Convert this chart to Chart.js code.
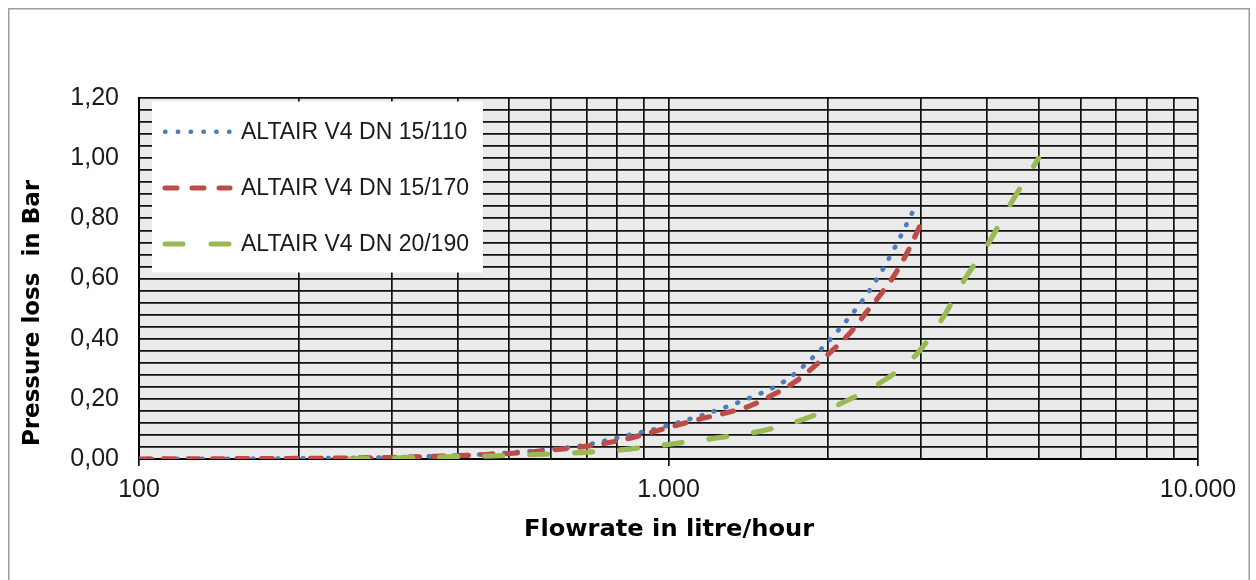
<!DOCTYPE html>
<html>
<head>
<meta charset="utf-8">
<script src="https://cdn.jsdelivr.net/npm/chart.js@4/dist/chart.umd.min.js"></script>
<style>
html,body{margin:0;padding:0;background:#fff;}
#wrap{width:1256px;height:580px;position:relative;}
</style>
</head>
<body>
<div id="wrap"><canvas id="c" width="1256" height="580"></canvas></div>
<script>
// ---- data ----
const seriesNames = ['ALTAIR V4 DN 15/110', 'ALTAIR V4 DN 15/170', 'ALTAIR V4 DN 20/190'];

const flow110 = [100, 200, 300, 400, 500, 600, 700, 768, 856, 955, 1004, 1178, 1377, 1601, 1680, 1829, 1978, 2127, 2283, 2433, 2578, 2716, 2935];
const loss110 = [0.000, 0.002, 0.006, 0.012, 0.021, 0.032, 0.047, 0.063, 0.083, 0.102, 0.113, 0.150, 0.193, 0.243, 0.266, 0.320, 0.380, 0.442, 0.509, 0.577, 0.651, 0.725, 0.845];

const flow170 = [100, 200, 300, 346, 400, 480, 540, 600, 670, 741, 830, 934, 1026, 1141, 1276, 1422, 1573, 1736, 1900, 2042, 2212, 2377, 2538, 2708, 2849, 2990];
const loss170 = [0.000, 0.002, 0.005, 0.008, 0.011, 0.017, 0.022, 0.030, 0.038, 0.049, 0.066, 0.090, 0.110, 0.132, 0.152, 0.176, 0.213, 0.257, 0.313, 0.362, 0.423, 0.493, 0.556, 0.628, 0.700, 0.778];

const flow190 = [250, 300, 379, 466, 563, 680, 832, 1014, 1222, 1479, 1787, 2118, 2530, 2934, 3293, 3619, 4035, 4434, 5000];
const loss190 = [0.000, 0.003, 0.007, 0.010, 0.015, 0.021, 0.032, 0.050, 0.069, 0.091, 0.130, 0.185, 0.257, 0.346, 0.468, 0.595, 0.722, 0.850, 1.000];

const xTickValues = [100, 200, 300, 400, 500, 600, 700, 800, 900, 1000, 2000, 3000, 4000, 5000, 6000, 7000, 8000, 9000, 10000];
const xTickLabels = {100: '100', 1000: '1.000', 10000: '10.000'};
const yTickLabels = ['0,00', '0,20', '0,40', '0,60', '0,80', '1,00', '1,20'];
const xTitle = 'Flowrate in litre/hour';
const yTitle = 'Pressure loss  in Bar';

// ---- build ----
const pts = (xs, ys) => xs.map((x, i) => ({x: x, y: ys[i]}));

const styles = [
  {color: '#4A7EBB', width: 4.6, dash: [0.8, 11.8], legendWidth: 4.4, legendDash: [0.5, 12.3]},
  {color: '#BE4B48', width: 5.2, dash: [11, 13.5], legendWidth: 5, legendDash: [12, 15]},
  {color: '#98B954', width: 5.2, dash: [18, 27], legendWidth: 5, legendDash: [18, 28]}
];
const seriesData = [pts(flow110, loss110), pts(flow170, loss170), pts(flow190, loss190)];
const drawOrder = [2, 1, 0];

const datasets = seriesNames.map((name, i) => ({
  label: name,
  data: seriesData[i],
  borderColor: styles[i].color,
  backgroundColor: styles[i].color,
  borderWidth: styles[i].width,
  borderDash: styles[i].dash,
  borderCapStyle: 'round',
  borderJoinStyle: 'round',
  pointRadius: 0,
  pointHoverRadius: 0,
  fill: false,
  cubicInterpolationMode: 'monotone',
  order: drawOrder[i]
}));

const framePlugin = {
  id: 'frame',
  beforeDraw(chart) {
    const {ctx, chartArea: a} = chart;
    ctx.save();
    ctx.fillStyle = '#ffffff';
    ctx.fillRect(0, 0, chart.width, chart.height);
    ctx.strokeStyle = '#9c9c9c';
    ctx.lineWidth = 1.5;
    ctx.strokeRect(8.75, 8.75, 1240.5, 600);
    ctx.fillStyle = '#EAEAEA';
    ctx.fillRect(a.left, a.top, a.right - a.left, a.bottom - a.top);
    ctx.restore();
  },
  afterDatasetsDraw(chart) {
    const {ctx} = chart;
    ctx.save();
    // legend box
    ctx.fillStyle = '#ffffff';
    ctx.fillRect(152, 101.5, 331, 171);
    seriesNames.forEach((name, i) => {
      const y = 131.7 + i * 56.2;
      const s = styles[i];
      ctx.beginPath();
      ctx.setLineDash(s.legendDash);
      ctx.lineCap = 'round';
      ctx.lineWidth = s.legendWidth;
      ctx.strokeStyle = s.color;
      ctx.moveTo(165, y);
      ctx.lineTo(230, y);
      ctx.stroke();
      ctx.setLineDash([]);
      ctx.fillStyle = '#1a1a1a';
      ctx.font = '23px "Liberation Sans", Arial, sans-serif';
      ctx.textAlign = 'left';
      ctx.textBaseline = 'middle';
      ctx.fillText(name, 241, y + 1);
    });
    // axis titles
    ctx.fillStyle = '#000';
    ctx.font = 'bold 23px "DejaVu Sans", Verdana, sans-serif';
    ctx.textAlign = 'center';
    ctx.textBaseline = 'middle';
    ctx.save();
    ctx.translate(669, 530);
    ctx.scale(1.05, 1);
    ctx.fillText(xTitle, 0, 0);
    ctx.restore();
    ctx.save();
    ctx.translate(33, 313);
    ctx.rotate(-Math.PI / 2);
    ctx.fillText(yTitle, 0, 0);
    ctx.restore();
    ctx.restore();
  }
};

new Chart(document.getElementById('c'), {
  type: 'line',
  data: {datasets: datasets},
  options: {
    responsive: false,
    animation: false,
    devicePixelRatio: 1,
    layout: {padding: {left: 0, top: 98, right: 58, bottom: 0}},
    plugins: {legend: {display: false}, title: {display: false}, tooltip: {enabled: false}},
    scales: {
      x: {
        type: 'logarithmic',
        min: 100,
        max: 10000,
        afterBuildTicks: (scale) => { scale.ticks = xTickValues.map(v => ({value: v, major: !!xTickLabels[v]})); },
        afterFit: (scale) => { scale.height = 121; },
        ticks: {
          autoSkip: false,
          maxRotation: 0,
          minRotation: 0,
          padding: 9,
          color: '#1a1a1a',
          font: {family: '"Liberation Sans", Arial, sans-serif', size: 25},
          callback: (value) => xTickLabels[value] || ''
        },
        grid: {
          color: '#111',
          lineWidth: 1.7,
          drawTicks: true,
          tickLength: 7,
          tickColor: (ctx) => (ctx.tick && xTickLabels[ctx.tick.value]) ? '#111' : 'rgba(0,0,0,0)',
          tickWidth: 1.7
        },
        border: {display: true, color: '#000', width: 2}
      },
      y: {
        type: 'linear',
        min: 0,
        max: 1.2,
        afterBuildTicks: (scale) => {
          const t = [];
          for (let i = 0; i <= 30; i++) t.push({value: Math.round(i * 4) / 100});
          scale.ticks = t;
        },
        afterFit: (scale) => { scale.width = 139; },
        ticks: {
          autoSkip: false,
          padding: 20,
          color: '#1a1a1a',
          font: {family: '"Liberation Sans", Arial, sans-serif', size: 25},
          callback: (value, index) => (index % 5 === 0) ? yTickLabels[index / 5] : ''
        },
        grid: {color: '#111', lineWidth: 1.7, drawTicks: false},
        border: {display: true, color: '#000', width: 2}
      }
    }
  },
  plugins: [framePlugin]
});
</script>
</body>
</html>
